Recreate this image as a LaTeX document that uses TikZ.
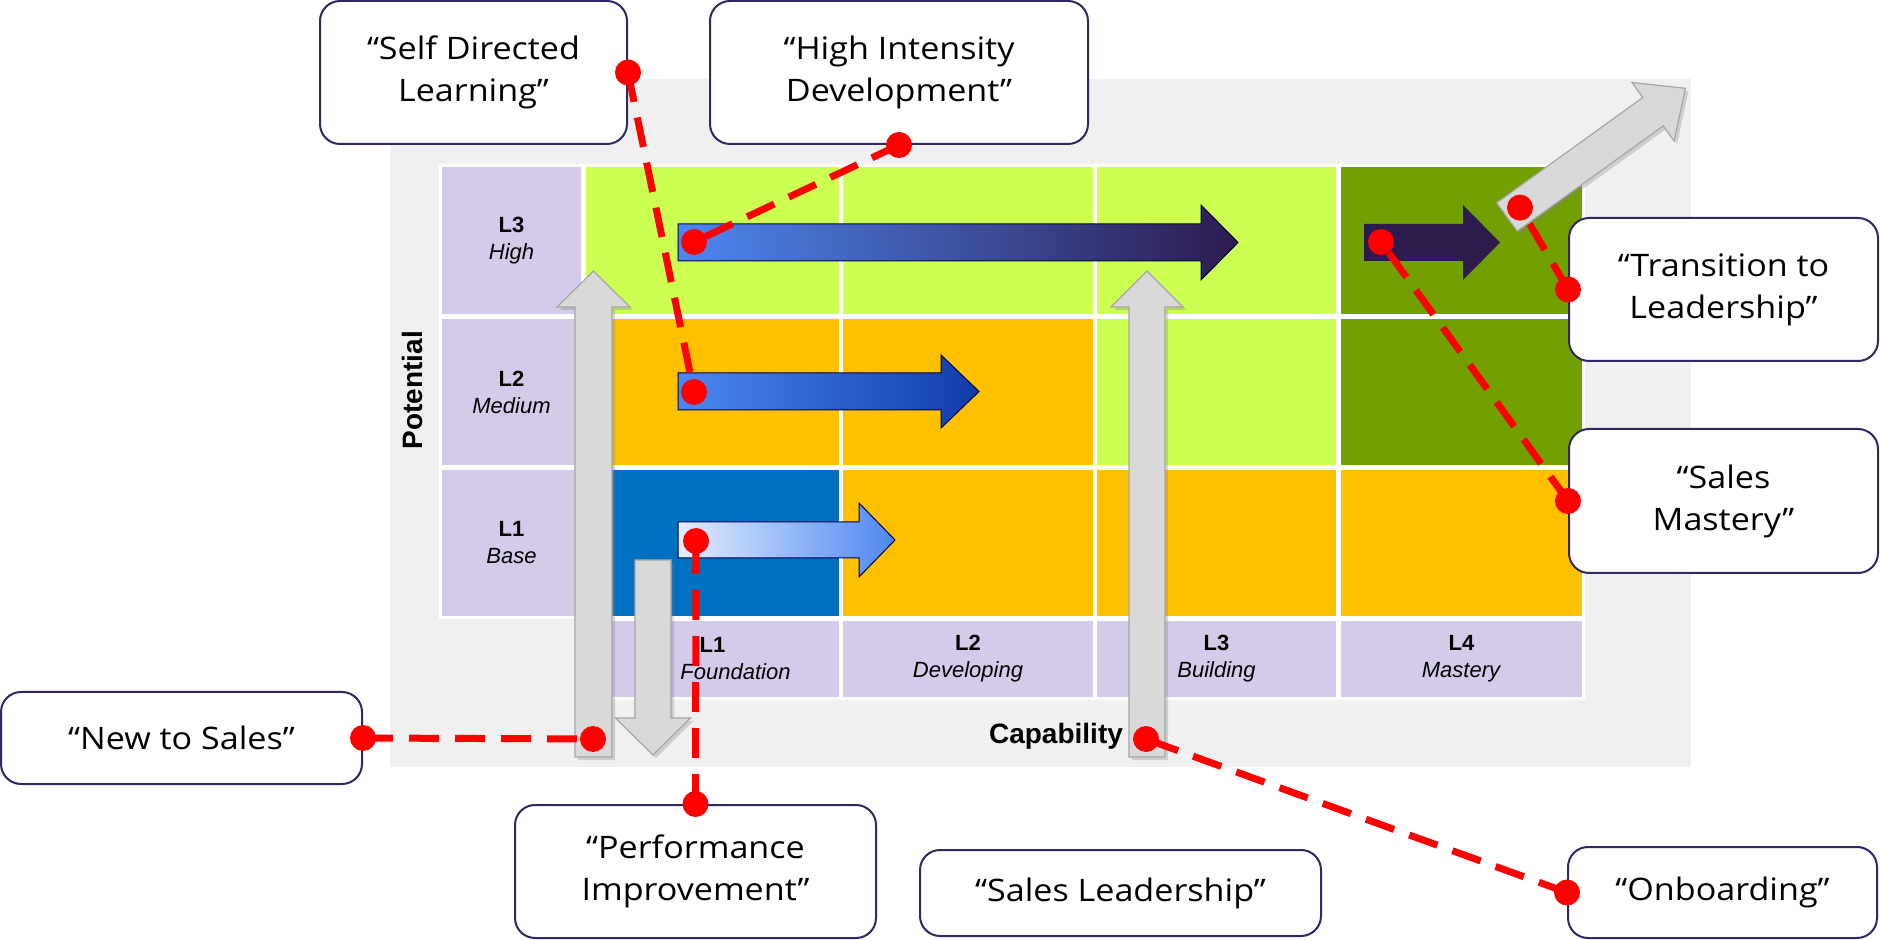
\documentclass[tikz,border=0pt]{standalone}
\usepackage{fontspec}
\usetikzlibrary{shadows}
\newfontfamily\calloutfont{Open Sans}[FakeStretch=1.1]
\newfontfamily\gridfont{Liberation Sans}
\definecolor{lav}{RGB}{212,203,234}
\definecolor{limegr}{RGB}{204,255,82}
\definecolor{gold}{RGB}{255,192,0}
\definecolor{cellblue}{RGB}{0,112,192}
\definecolor{darkgr}{RGB}{114,160,0}
\definecolor{bggray}{RGB}{240,240,240}
\definecolor{boxline}{RGB}{46,40,100}
\definecolor{arrowgray}{RGB}{217,217,217}
\definecolor{navy}{RGB}{45,27,78}
\definecolor{midblue}{RGB}{77,135,240}
\definecolor{paleblue}{RGB}{228,238,255}
\definecolor{deepblue}{RGB}{16,60,170}
\begin{document}
\begin{tikzpicture}[x=0.5pt,y=-0.5pt,
    callout/.style={draw=boxline,line width=1pt,rounded corners=10pt,fill=white,align=center,inner sep=0pt,font=\calloutfont\fontsize{15.5}{21}\selectfont},
    lvl/.style={align=center,font=\gridfont\fontsize{11}{13.5}\selectfont},
    axislab/.style={font=\gridfont\bfseries\fontsize{14}{16}\selectfont},
    grayarrow/.style={fill=arrowgray,draw=black!35,line width=0.6pt,drop shadow={shadow xshift=1.5pt,shadow yshift=-1.5pt,opacity=0.3}},
    bluearrow/.style={draw=blue!30!black,line width=0.5pt},
    redlink/.style={red,line width=3.5pt,dash pattern=on 15pt off 8pt}]
  \useasboundingbox (0,0) rectangle (1880,940);

  % Background panel
  \fill[bggray] (390,79) rectangle (1691,767);
  \fill[white] (439,164) rectangle (1585,619);
  \fill[white] (583,619) rectangle (1585,700);

  % Potential column
  \foreach \ya/\yb in {167/314, 319/465, 470/616}
    \fill[lav] (442,\ya) rectangle (581,\yb);

  % Grid cells
  \foreach \xa/\xb/\ya/\yb/\c in {586/839/167/314/limegr, 843/1093/167/314/limegr, 1097/1336/167/314/limegr, 1341/1582/167/314/darkgr,
      586/839/319/465/gold, 843/1093/319/465/gold, 1097/1336/319/465/limegr, 1341/1582/319/465/darkgr,
      586/839/470/616/cellblue, 843/1093/470/616/gold, 1097/1336/470/616/gold, 1341/1582/470/616/gold,
      586/839/621/697/lav, 843/1093/621/697/lav, 1097/1336/621/697/lav, 1341/1582/621/697/lav}
    \fill[\c] (\xa,\ya) rectangle (\xb,\yb);

  % Level labels
  \node[lvl] (r3) at (511.5,240.5) {\textbf{L3}\\\textit{High}};
  \node[lvl] (r2) at (511.5,392) {\textbf{L2}\\\textit{Medium}};
  \node[lvl] (r1) at (511.5,543) {\textbf{L1}\\\textit{Base}};
  \node[lvl] (c1) at (712.5,659) {\textbf{L1}\\\hspace*{23pt}\textit{Foundation}};
  \node[lvl] (c2) at (968,659) {\textbf{L2}\\\textit{Developing}};
  \node[lvl] (c3) at (1216.5,659) {\textbf{L3}\\\textit{Building}};
  \node[lvl] (c4) at (1461.5,659) {\textbf{L4}\\\textit{Mastery}};

  % Axis labels
  \node[axislab,rotate=90] (potential) at (412,390) {Potential};
  \node[axislab] (capability) at (1056,736) {Capability};

  % Development arrows
  \shadedraw[bluearrow,left color=paleblue,right color=midblue] (678,522) -- (859,522) -- (859,503) -- (895,540) -- (859,577) -- (859,558) -- (678,558) -- cycle;
  \shadedraw[bluearrow,left color=midblue,right color=deepblue] (678,373) -- (941,373) -- (941,355) -- (979,391.5) -- (941,428) -- (941,410) -- (678,410) -- cycle;
  \shadedraw[bluearrow,left color=midblue,right color=navy] (678,224) -- (1201,224) -- (1201,205) -- (1238,242.5) -- (1201,280) -- (1201,261) -- (678,261) -- cycle;
  \fill[navy] (1364,224) -- (1463,224) -- (1463,205) -- (1500,242.5) -- (1463,280) -- (1463,261) -- (1364,261) -- cycle;

  % Gray moves
  \draw[grayarrow] (575,757) -- (575,307) -- (557,307) -- (593.5,271) -- (630,307) -- (612,307) -- (612,757) -- cycle;
  \draw[grayarrow] (635,560) -- (671,560) -- (671,718) -- (690.5,718) -- (653,755) -- (615.5,718) -- (635,718) -- cycle;
  \draw[grayarrow] (1129,757) -- (1129,307) -- (1111,307) -- (1147,271) -- (1183,307) -- (1165,307) -- (1165,757) -- cycle;
  \begin{scope}[shift={(1507,217)},rotate=35.8]
    \draw[grayarrow] (0,-17.5) -- (180,-17.5) -- (180,-36) -- (220,0) -- (180,36) -- (180,17.5) -- (0,17.5) -- cycle;
    \coordinate (tlend) at (16,0);
  \end{scope}

  % Connector ends
  \coordinate (sdlend) at (694,392);
  \coordinate (hidend) at (694,242);
  \coordinate (smend) at (1381,242);
  \coordinate (ntsend) at (593,739);
  \coordinate (piend) at (696,541);
  \coordinate (onbend) at (1146,739);

  % Callouts
  \node[callout,minimum width=153.5pt,minimum height=71.5pt] (sdl) at (473.5,72.5) {“Self Directed\\Learning”};
  \node[callout,minimum width=189pt,minimum height=71.5pt] (hid) at (899,72.5) {“High Intensity\\Development”};
  \node[callout,minimum width=154.5pt,minimum height=71.5pt] (tl) at (1723.5,289.5) {“Transition to\\Leadership”};
  \node[callout,minimum width=154.5pt,minimum height=72pt] (sm) at (1723.5,501) {“Sales\\Mastery”};
  \node[callout,minimum width=180.5pt,minimum height=46pt] (nts) at (181.5,738) {“New to Sales”};
  \node[callout,minimum width=180.5pt,minimum height=66.5pt] (pi) at (695.5,871.5) {“Performance\\Improvement”};
  \node[callout,minimum width=200.5pt,minimum height=43pt] (sl) at (1120.5,893) {“Sales Leadership”};
  \node[callout,minimum width=154.5pt,minimum height=45.5pt] (onb) at (1722.5,892.5) {“Onboarding”};

  % Red dashed links
  \foreach \a/\b in {sdl.east/sdlend, hid.south/hidend, tl.west/tlend, sm.west/smend, nts.east/ntsend, pi.north/piend, onb.west/onbend}{
    \draw[redlink] (\a) -- (\b);
    \fill[red] (\a) circle (6.5pt) (\b) circle (6.5pt);
  }
\end{tikzpicture}
\end{document}
